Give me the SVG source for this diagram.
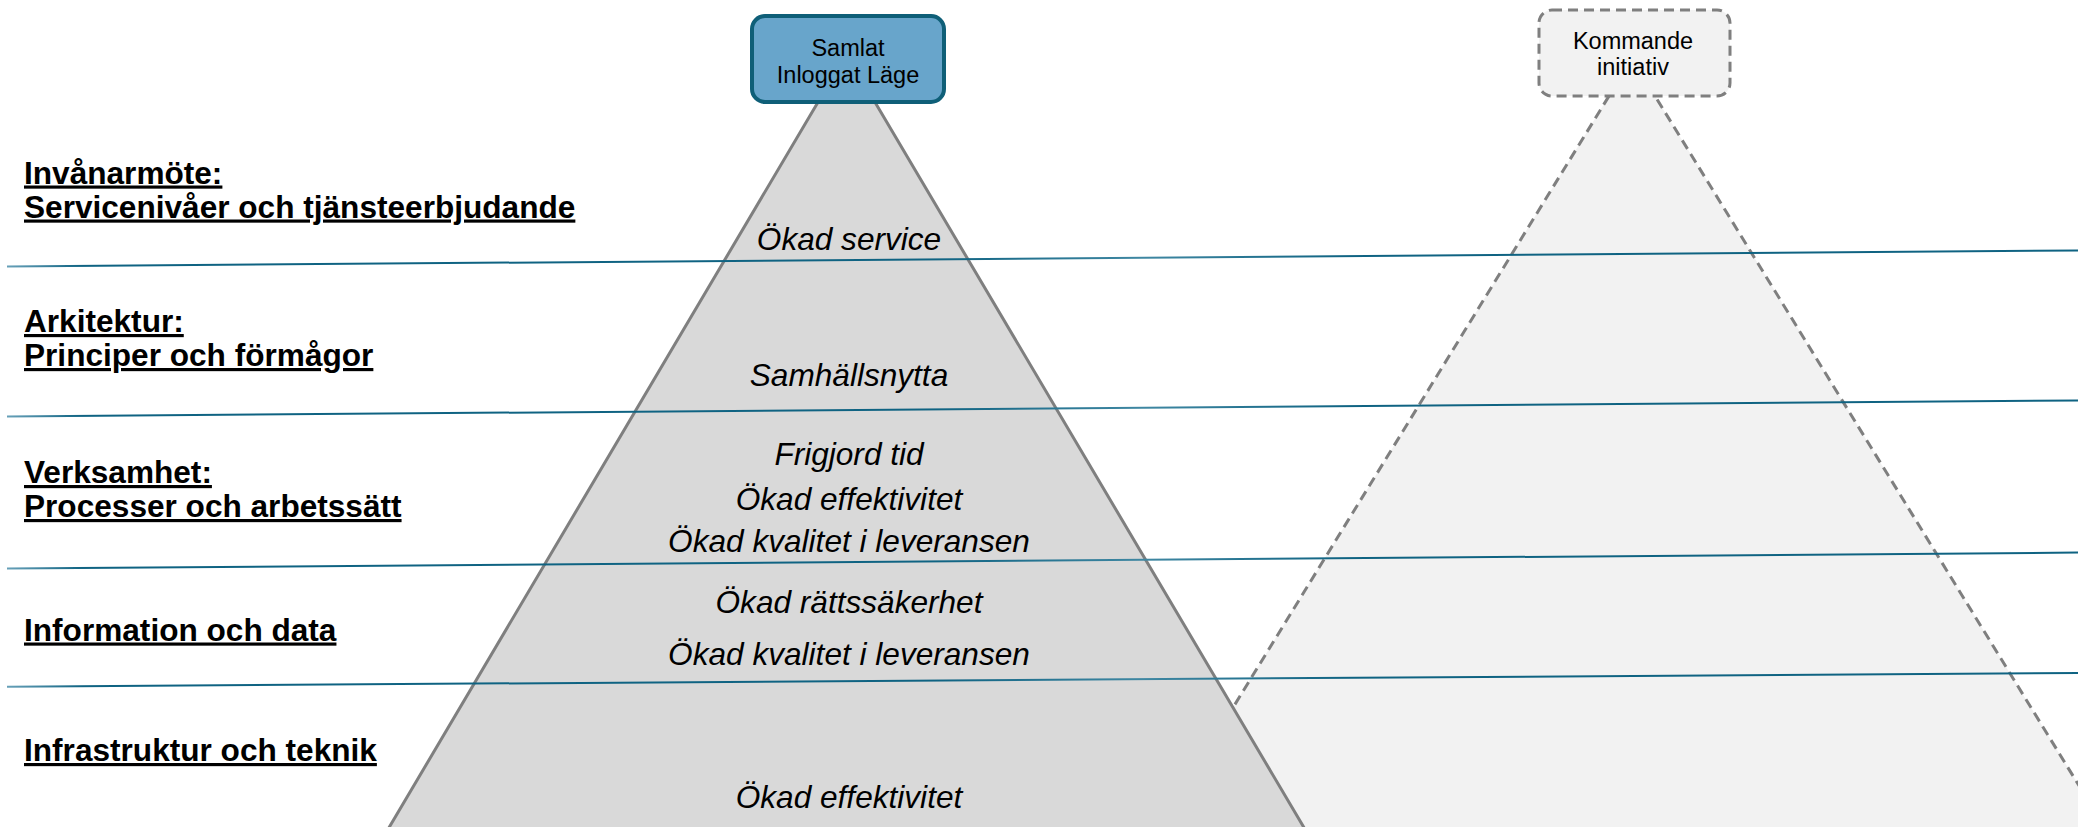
<svg xmlns="http://www.w3.org/2000/svg" width="2078" height="827" viewBox="0 0 2078 827">
  <style>
    .label { font-family: "Liberation Sans", Arial, sans-serif; font-size: 31.6px; font-weight: bold; fill: #000; text-decoration: underline; }
    .benefit { font-family: "Liberation Sans", Arial, sans-serif; font-size: 31.6px; font-style: italic; fill: #000; text-anchor: middle; }
    .boxtext { font-family: "Liberation Sans", Arial, sans-serif; font-size: 23.5px; fill: #000; text-anchor: middle; }
    .layer { fill: none; stroke: url(#layerStroke); stroke-width: 2; }
  </style>
  <defs>
    <linearGradient id="layerStroke" gradientUnits="userSpaceOnUse" x1="0" y1="0" x2="2078" y2="0">
      <stop offset="0" stop-color="#6fa6bd"/>
      <stop offset="0.04" stop-color="#0f6382"/>
      <stop offset="0.45" stop-color="#0f6382"/>
      <stop offset="0.55" stop-color="#3f87a2"/>
      <stop offset="0.65" stop-color="#0f6382"/>
      <stop offset="1" stop-color="#0f6382"/>
    </linearGradient>
  </defs>

  <rect width="2078" height="827" fill="#ffffff"/>

  <!-- upcoming initiative: dashed pyramid behind the main one -->
  <g id="pyramid-kommande">
    <polygon points="1632,58.6 2260,1080 1004,1080" fill="#f2f2f2" stroke="#7f7f7f" stroke-width="3" stroke-dasharray="10,6"/>
  </g>

  <!-- main pyramid -->
  <g id="pyramid-samlat">
    <polygon points="846.5,54 1306,831 387,831" fill="#d9d9d9" stroke="#7f7f7f" stroke-width="3"/>
  </g>

  <!-- layer separators -->
  <g id="connectors">
    <line class="layer" x1="7" y1="266.5" x2="2078" y2="250.5"/>
    <line class="layer" x1="7" y1="416.5" x2="2078" y2="400.5"/>
    <line class="layer" x1="7" y1="568.6" x2="2078" y2="552.6"/>
    <line class="layer" x1="7" y1="686.7" x2="2078" y2="673"/>
  </g>

  <!-- top boxes -->
  <g id="node-samlat">
    <rect x="752" y="16" width="192" height="86" rx="13" fill="#68a5cb" stroke="#0f5f78" stroke-width="4"/>
    <text class="boxtext" x="848" y="56">Samlat</text>
    <text class="boxtext" x="848" y="82.5">Inloggat Läge</text>
  </g>
  <g id="node-kommande">
    <rect x="1539" y="10" width="191" height="86" rx="13" fill="#f2f2f2" stroke="#7f7f7f" stroke-width="3" stroke-dasharray="10,6"/>
    <text class="boxtext" x="1633" y="48.5">Kommande</text>
    <text class="boxtext" x="1633" y="74.5">initiativ</text>
  </g>

  <!-- layer labels -->
  <g id="labels">
    <text class="label" x="24" y="183.5">Invånarmöte:</text>
    <text class="label" x="24" y="217.5">Servicenivåer och tjänsteerbjudande</text>
    <text class="label" x="24" y="332">Arkitektur:</text>
    <text class="label" x="24" y="366">Principer och förmågor</text>
    <text class="label" x="24" y="483">Verksamhet:</text>
    <text class="label" x="24" y="517">Processer och arbetssätt</text>
    <text class="label" x="24" y="640.5">Information och data</text>
    <text class="label" x="24" y="761">Infrastruktur och teknik</text>
  </g>

  <!-- benefits per layer -->
  <g id="benefits">
    <text class="benefit" x="849" y="250">Ökad service</text>
    <text class="benefit" x="849" y="385.5">Samhällsnytta</text>
    <text class="benefit" x="849" y="465">Frigjord tid</text>
    <text class="benefit" x="849" y="510">Ökad effektivitet</text>
    <text class="benefit" x="849" y="551.5">Ökad kvalitet i leveransen</text>
    <text class="benefit" x="849" y="613">Ökad rättssäkerhet</text>
    <text class="benefit" x="849" y="665">Ökad kvalitet i leveransen</text>
    <text class="benefit" x="849" y="808">Ökad effektivitet</text>
  </g>
</svg>
